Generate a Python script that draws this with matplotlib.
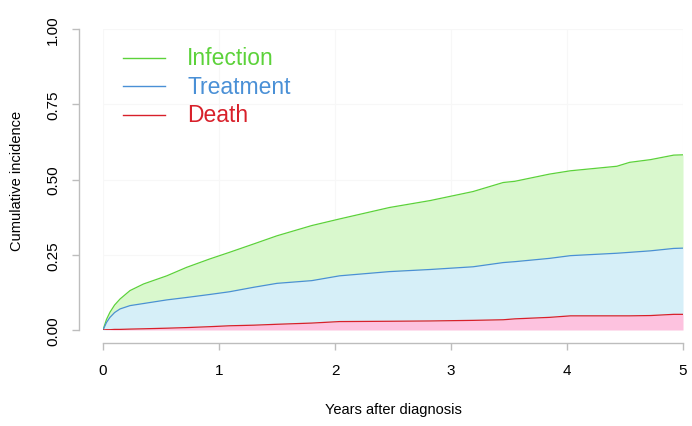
import matplotlib
matplotlib.use("Agg")
import matplotlib.pyplot as plt
import numpy as np

plt.rcParams['font.family'] = ['Liberation Sans', 'DejaVu Sans']

# years after diagnosis
years = [0, 0.03, 0.06, 0.1, 0.147, 0.233, 0.35, 0.55, 0.72, 0.92, 1.09, 1.3, 1.5, 1.8,
         2.04, 2.47, 2.82, 3.19, 3.45, 3.55, 3.85, 4.03, 4.43, 4.54, 4.72, 4.92, 5.0]
infection = [0, 0.035, 0.059, 0.083, 0.103, 0.131, 0.153, 0.18, 0.208, 0.236, 0.258, 0.286, 0.313, 0.347,
             0.369, 0.407, 0.43, 0.46, 0.49, 0.494, 0.518, 0.529, 0.544, 0.557, 0.566, 0.581, 0.582]
treatment = [0, 0.025, 0.042, 0.058, 0.07, 0.081, 0.088, 0.100, 0.108, 0.118, 0.127, 0.142, 0.155, 0.164,
             0.18, 0.194, 0.201, 0.21, 0.224, 0.227, 0.238, 0.247, 0.255, 0.258, 0.263, 0.271, 0.272]
death = [0, 0.001, 0.001, 0.002, 0.002, 0.003, 0.004, 0.006, 0.008, 0.011, 0.014, 0.016, 0.019, 0.023,
         0.028, 0.029, 0.030, 0.032, 0.034, 0.037, 0.042, 0.047, 0.047, 0.047, 0.048, 0.052, 0.052]
labels = ["Infection", "Treatment", "Death"]
xticks = [0, 1, 2, 3, 4, 5]
yticks = [0, 0.25, 0.5, 0.75, 1.0]

line_cols = ["#5cd23a", "#4a90d6", "#d8202a"]
fill_cols = ["#d9f8cd", "#d6eff8", "#fdc2df"]

fig = plt.figure(figsize=(6.92, 4.27), dpi=100)
ax = fig.add_axes([103 / 692, 1 - 331 / 427, 580 / 692, 301 / 427])

x = np.array(years)
ax.fill_between(x, 0, death, color=fill_cols[2], lw=0)
ax.fill_between(x, death, treatment, color=fill_cols[1], lw=0)
ax.fill_between(x, treatment, infection, color=fill_cols[0], lw=0)
ax.plot(x, infection, color=line_cols[0], lw=0.9)
ax.plot(x, treatment, color=line_cols[1], lw=0.9)
ax.plot(x, death, color=line_cols[2], lw=0.9)

ax.set_xlim(0, 5)
ax.set_ylim(0, 1)
ax.set_xticks(xticks)
ax.set_xticklabels([str(t) for t in xticks])
ax.set_yticks(yticks)
ax.set_yticklabels(["%.2f" % t for t in yticks])
ax.grid(True, color="#f7f7f7", lw=0.8)
ax.set_axisbelow(True)

for s in ["top", "right"]:
    ax.spines[s].set_visible(False)
ax.spines["left"].set_position(("outward", 17))
ax.spines["bottom"].set_position(("outward", 9))
for s in ["left", "bottom"]:
    ax.spines[s].set_color("#bdbdbd")
    ax.spines[s].set_linewidth(1.0)
ax.tick_params(colors="#bdbdbd", labelcolor="black", labelsize=11, length=5, width=1.0)
ax.tick_params(axis="x", pad=10)
ax.tick_params(axis="y", pad=9, labelrotation=90)
for t in ax.get_yticklabels():
    t.set_va("center")

ax.set_xlabel("Years after diagnosis", fontsize=10.5, labelpad=18)
ax.set_ylabel("Cumulative incidence", fontsize=10.5, labelpad=16)

# legend drawn in axes fractions
for i, lab in enumerate(labels):
    yy = 0.905 - i * 0.095
    ax.plot([0.034, 0.107], [yy, yy], transform=ax.transAxes, color=line_cols[i], lw=1.0)
    ax.text(0.145, yy, lab, transform=ax.transAxes, color=line_cols[i], fontsize=16.5, va="center")

fig.savefig("out.png", dpi=100)
